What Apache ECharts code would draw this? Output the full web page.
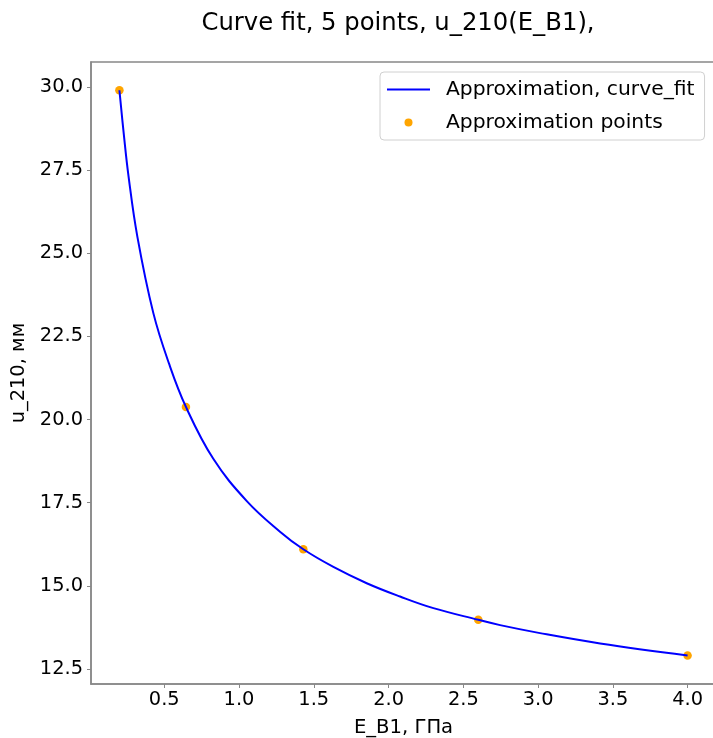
<!DOCTYPE html>
<html>
<head>
<meta charset="utf-8">
<script src="https://cdn.jsdelivr.net/npm/echarts@6/dist/echarts.min.js"></script>
<style>html,body{margin:0;padding:0;background:#fff;}#c{width:713px;height:738px;}</style>
</head>
<body>
<div id="c"></div>
<script>
const titleText = 'Curve fit, 5 points, u_210(E_B1),';
const xName = 'E_B1, ГПа';
const yName = 'u_210, мм';
const curveName = 'Approximation, curve_fit';
const pointsName = 'Approximation points';
const curveX = [0.2, 0.23, 0.26, 0.32, 0.427, 0.532, 0.645, 0.828, 1.052, 1.274, 1.43, 1.631, 1.854, 2.077, 2.30, 2.60, 2.746, 3.013, 3.415, 4.0];
const curveY = [29.9, 28.55, 27.35, 25.5, 23.2, 21.68, 20.38, 18.82, 17.55, 16.63, 16.1, 15.57, 15.08, 14.68, 14.33, 13.98, 13.82, 13.58, 13.27, 12.91];
const pointX = [0.2, 0.645, 1.43, 2.6, 4.0];
const pointY = [29.9, 20.38, 16.1, 13.98, 12.91];
const xTicks = [0.5, 1.0, 1.5, 2.0, 2.5, 3.0, 3.5, 4.0];
const yTicks = [12.5, 15.0, 17.5, 20.0, 22.5, 25.0, 27.5, 30.0];

const font = 'DejaVu Sans';
const chart = echarts.init(document.getElementById('c'), null, {renderer: 'canvas'});
chart.setOption({
  animation: false,
  backgroundColor: '#fff',
  textStyle: {fontFamily: font},
  title: {
    text: titleText, left: 393, top: 7, textAlign: 'center',
    textStyle: {fontFamily: font, fontSize: 24.3, fontWeight: 'normal', color: '#000'}
  },
  grid: {left: 91, top: 62, right: -3, bottom: 54, outerBoundsMode: 'none', containLabel: false,
         show: true, borderColor: '#888', borderWidth: 1.5, backgroundColor: 'transparent'},
  legend: {
    orient: 'vertical', left: 380, top: 72,
    padding: [6, 10, 6, 7], itemGap: 10, itemWidth: 43, itemHeight: 8,
    borderColor: '#d0d0d0', borderWidth: 1, borderRadius: 4, backgroundColor: 'rgba(255,255,255,0.8)',
    textStyle: {fontFamily: font, fontSize: 20.3, color: '#000', padding: [0, 0, 0, 11], lineHeight: 23},
    data: [
      {name: curveName, icon: 'path://M0,0 L43,0 L43,2 L0,2 Z', itemStyle: {color: '#0000ff'}},
      {name: pointsName, icon: 'circle', itemStyle: {color: '#ffa500'}}
    ]
  },
  xAxis: {
    type: 'value', min: 0.01, max: 4.19,
    name: xName, nameLocation: 'middle', nameGap: 34,
    nameTextStyle: {fontFamily: font, fontSize: 19.6, color: '#000'},
    axisLine: {show: true, lineStyle: {color: '#888', width: 1.5}},
    axisTick: {show: true, inside: false, length: 4, lineStyle: {color: '#888', width: 1}, customValues: xTicks},
    axisLabel: {fontFamily: font, fontSize: 19.4, color: '#000', margin: 6, customValues: xTicks, formatter: v => v.toFixed(1)},
    splitLine: {show: false}
  },
  yAxis: {
    type: 'value', min: 12.05, max: 30.75,
    name: yName, nameLocation: 'middle', nameGap: 51, nameRotate: 90,
    nameTextStyle: {fontFamily: font, fontSize: 19.4, color: '#000'},
    axisLine: {show: true, lineStyle: {color: '#888', width: 1.5}},
    axisTick: {show: true, inside: false, length: 4, lineStyle: {color: '#888', width: 1}, customValues: yTicks},
    axisLabel: {fontFamily: font, fontSize: 19.4, color: '#000', margin: 8, customValues: yTicks, formatter: v => v.toFixed(1)},
    splitLine: {show: false}
  },
  series: [
    {
      name: curveName, type: 'line', showSymbol: false, symbol: 'none',
      smooth: 0.4,
      lineStyle: {color: '#0000ff', width: 2}, itemStyle: {color: '#0000ff'},
      data: curveX.map((x, i) => [x, curveY[i]]), z: 2
    },
    {
      name: pointsName, type: 'scatter', symbol: 'circle', symbolSize: 8.5,
      itemStyle: {color: '#ffa500', opacity: 1},
      data: pointX.map((x, i) => [x, pointY[i]]), z: 1
    }
  ]
});
</script>
</body>
</html>
